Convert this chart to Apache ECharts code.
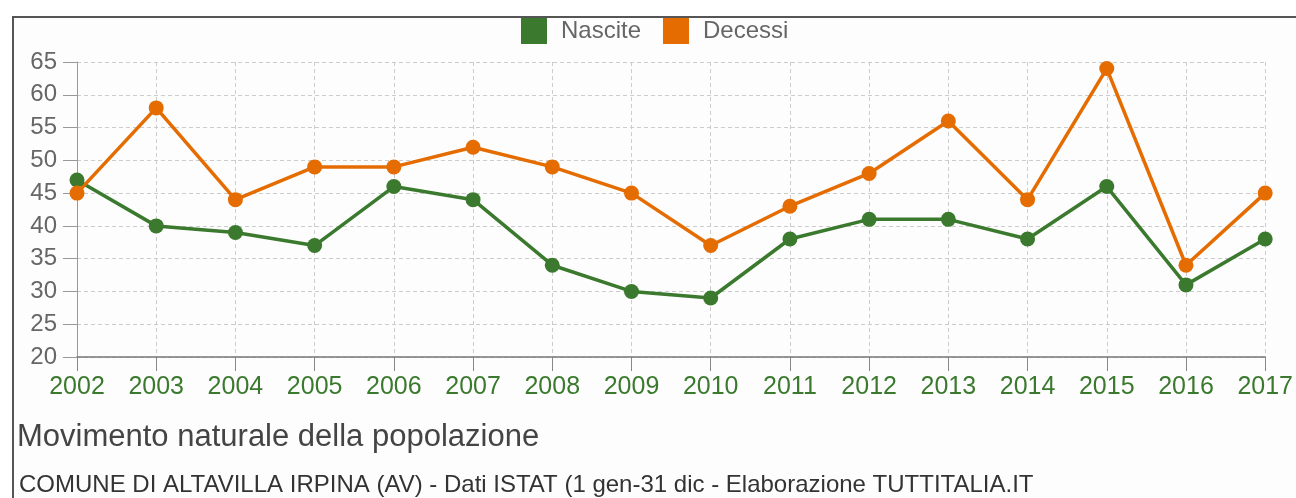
<!DOCTYPE html>
<html lang="it">
  <head>
    <meta charset="UTF-8" />
    <title>Movimento naturale della popolazione</title>
    <script src="https://cdn.jsdelivr.net/npm/echarts@6/dist/echarts.min.js"></script>
    <style>
      html, body {
        margin: 0;
        padding: 0;
        background: #fff;
      }
      #main {
        width: 1296px;
        height: 498px;
      }
    </style>
  </head>
  <body>
    <div id="main"></div>

    <script type="text/javascript">
      // dati
      var anni = ["2002", "2003", "2004", "2005", "2006", "2007", "2008", "2009",
        "2010", "2011", "2012", "2013", "2014", "2015", "2016", "2017"];
      var nascite = [47, 40, 39, 37, 46, 44, 34, 30, 29, 38, 41, 41, 38, 46, 31, 38];
      var decessi = [45, 58, 44, 49, 49, 52, 49, 45, 37, 43, 48, 56, 44, 64, 34, 45];

      var verde = "#3b7a2e";
      var arancio = "#e46c00";
      var font = "Liberation Sans, Arial, sans-serif";

      var myChart = echarts.init(document.getElementById("main"));

      function serie(nome, dati, colore) {
        return {
          name: nome,
          type: "line",
          data: dati,
          symbol: "circle",
          symbolSize: 15,
          itemStyle: { color: colore },
          lineStyle: { color: colore, width: 3.5 },
          emphasis: { disabled: true },
          animation: false,
        };
      }

      var option = {
        backgroundColor: "#fff",
        animation: false,
        textStyle: { fontFamily: font },
        title: [
          {
            text: "Movimento naturale della popolazione",
            left: 17,
            top: 422,
            padding: 0,
            textStyle: { fontSize: 31, fontWeight: "normal", color: "#444" },
          },
          {
            text: "COMUNE DI ALTAVILLA IRPINA (AV) - Dati ISTAT (1 gen-31 dic - Elaborazione TUTTITALIA.IT",
            left: 19,
            top: 473,
            padding: 0,
            textStyle: { fontSize: 24, fontWeight: "normal", color: "#333" },
          },
        ],
        legend: {
          left: 521,
          top: 18,
          padding: 0,
          itemWidth: 26,
          itemHeight: 26,
          itemGap: 22,
          icon: "rect",
          textStyle: { fontSize: 24, color: "#666", padding: [0, 0, 0, 9] },
          data: ["Nascite", "Decessi"],
        },
        graphic: [
          {
            type: "rect",
            shape: { x: 13, y: 17, width: 1300, height: 500 },
            style: { fill: "#fdfdfd", stroke: "#555", lineWidth: 2 },
            z: -10,
            silent: true,
          },
        ],
        grid: {
          left: 77,
          right: 28,
          top: 62,
          bottom: 141,
        },
        xAxis: {
          type: "category",
          data: anni,
          boundaryGap: false,
          axisLine: { lineStyle: { color: "#777", width: 1.5 } },
          axisTick: { show: true, length: 14, lineStyle: { color: "#888" } },
          axisLabel: { color: verde, fontSize: 25, margin: 18 },
          splitLine: {
            show: true,
            lineStyle: { color: "#ccc", type: [4, 3] },
          },
        },
        yAxis: {
          type: "value",
          min: 20,
          max: 65,
          interval: 5,
          axisLine: { show: true, lineStyle: { color: "#999" } },
          axisTick: { show: true, length: 14, inside: false, lineStyle: { color: "#999" } },
          axisLabel: { color: "#666", fontSize: 24, margin: 20 },
          splitLine: {
            show: true,
            lineStyle: { color: "#ccc", type: [4, 3] },
          },
        },
        series: [serie("Nascite", nascite, verde), serie("Decessi", decessi, arancio)],
      };

      myChart.setOption(option);
    </script>
  </body>
</html>
